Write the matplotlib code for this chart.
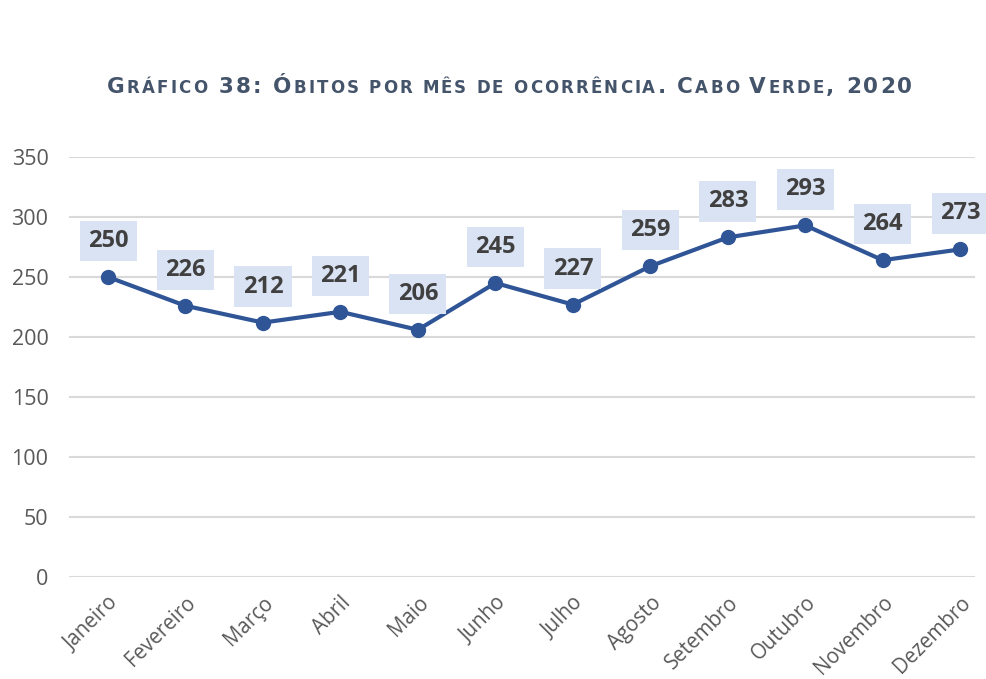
import matplotlib
matplotlib.use("Agg")
import matplotlib.pyplot as plt

months = ["Janeiro", "Fevereiro", "Março", "Abril", "Maio", "Junho",
          "Julho", "Agosto", "Setembro", "Outubro", "Novembro", "Dezembro"]
deaths = [250, 226, 212, 221, 206, 245, 227, 259, 283, 293, 264, 273]
yticks = [0, 50, 100, 150, 200, 250, 300, 350]

# Title runs: (text, is_small_cap)
title_runs = [("G", False), ("RÁFICO", True), (" 38: ", False), ("Ó", False),
              ("BITOS POR MÊS DE OCORRÊNCIA", True), (". C", False),
              ("ABO ", True), ("V", False), ("ERDE", True), (", 2020", False)]

LINE = "#2F5597"
LABEL_BG = "#DAE3F3"
LABEL_FG = "#404040"
TICK_FG = "#595959"
GRID = "#D9D9D9"
TITLE_FG = "#44546A"

W_PX, H_PX = 987, 679
fig = plt.figure(figsize=(W_PX / 100, H_PX / 100), dpi=100)
ax = fig.add_axes([0.0702, 0.1502, 0.9878 - 0.0702, 0.6186])

x = list(range(len(months)))
ax.plot(x, deaths, color=LINE, lw=3.0, marker="o", ms=10, zorder=3,
        solid_capstyle="round")

for xi, v in zip(x, deaths):
    ax.annotate(str(v), (xi, v), xytext=(0, 36), textcoords="offset pixels",
                ha="center", va="center", fontsize=17, fontweight="bold",
                family="Open Sans", color=LABEL_FG, zorder=4,
                bbox=dict(boxstyle="square,pad=0.35", fc=LABEL_BG, ec="none"))

ax.set_xlim(-0.5, 11.19)
ax.set_ylim(0, 350)
ax.set_yticks(yticks)
ax.set_xticks(x)
ax.set_xticklabels(months, rotation=45, ha="right", rotation_mode="anchor")
ax.yaxis.grid(True, color=GRID, lw=1.5)
ax.set_axisbelow(True)
for s in ax.spines.values():
    s.set_visible(False)
ax.tick_params(axis="both", length=0, labelcolor=TICK_FG)
ax.tick_params(axis="y", pad=15, labelsize=15.5)
ax.tick_params(axis="x", pad=11, labelsize=14.8)
for lab in ax.get_xticklabels() + ax.get_yticklabels():
    lab.set_family("Open Sans")

# Small-caps title: characters set on a shared baseline, tracked to fill
# the span from x=107 to x=912 px
renderer = fig.canvas.get_renderer()
BIG, SMALL = 15.5, 12.0
LEFT, RIGHT = 107.0, 912.0
chars = []
natural = 0.0
for txt, small in title_runs:
    for ch in txt:
        t = fig.text(0, 0, ch, family="DejaVu Sans", fontweight="bold",
                     color=TITLE_FG, fontsize=SMALL if small else BIG,
                     va="baseline", ha="left")
        w, _, _ = renderer.get_text_width_height_descent(
            ch.replace(" ", "\u00a0"), t.get_fontproperties(), ismath=False)
        chars.append((t, w))
        natural += w
track = (RIGHT - LEFT - natural) / (len(chars) - 1)
base = H_PX - 93.0
xpos = LEFT
for t, w in chars:
    t.set_position((xpos / W_PX, base / H_PX))
    xpos += w + track

fig.savefig("out.png", dpi=100)
